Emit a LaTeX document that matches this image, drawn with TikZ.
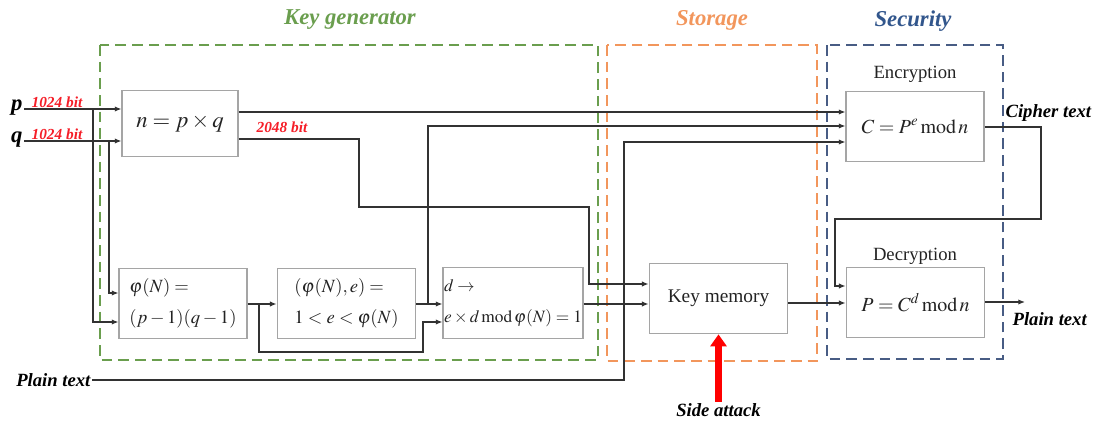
\documentclass[tikz,border=0pt]{standalone}
\usepackage{mathptmx}
\usepackage[no-math]{fontspec}
\setmainfont{Liberation Serif}
\usetikzlibrary{arrows.meta}
\definecolor{gcol}{RGB}{106,158,78}
\definecolor{ocol}{RGB}{242,150,92}
\definecolor{bcol}{RGB}{72,92,132}
\definecolor{btitle}{RGB}{50,86,140}
\definecolor{boxgray}{RGB}{165,165,165}
\definecolor{txtgray}{RGB}{35,35,35}
\definecolor{wiregray}{RGB}{50,50,50}
\definecolor{redlab}{RGB}{245,30,40}
\begin{document}
\begin{tikzpicture}[x=0.75pt,y=-0.75pt,
  box/.style={draw=boxgray, line width=0.8pt, inner sep=0pt, text=txtgray, minimum height=53pt},
  twoline/.style={align=left, font=\fontsize{14}{23}\selectfont},
  wire/.style={draw=wiregray, line width=0.9pt},
  arr/.style={wire, -{Latex[length=5pt,width=4pt]}},
  frame/.style={dashed, dash pattern=on 8pt off 4.5pt, line width=1.4pt},
  title/.style={font=\fontsize{17}{20}\selectfont\bfseries\itshape},
  lab/.style={font=\fontsize{14}{17}\selectfont\bfseries\itshape, text=black, inner sep=1pt},
  bits/.style={font=\fontsize{11.5}{13}\selectfont\bfseries\itshape, text=redlab, inner sep=0pt},
  hdr/.style={font=\fontsize{14}{17}\selectfont, text=txtgray},
  jdot/.style={circle, fill=wiregray, inner sep=0pt, minimum size=2.6pt},
  redarrow/.style={draw=red, line width=5pt, -{Triangle[length=9pt,width=12pt]}}
]
\useasboundingbox (0,0) rectangle (1097,421);

% dashed frames
\draw[frame, draw=gcol] (100,45) rectangle (598,360);
\draw[frame, draw=ocol] (607,45) rectangle (817,361);
\draw[frame, draw=bcol] (827,45) rectangle (1003,359);

% titles
\node[title, text=gcol] (tkg) at (350,20) {Key generator};
\node[title, text=ocol] (tst) at (712,20) {Storage};
\node[title, text=btitle] (tse) at (913,21) {Security};

% boxes
\node[box, minimum width=87pt, minimum height=49pt, font=\fontsize{17}{20}\selectfont] (nbox) at (180,123.5) {$n = p\times q$};
\node[box, twoline, minimum width=96pt] (phibox) at (183,303.5) {$\varphi(N) =$\\$(p-1)(q-1)$};
\node[box, twoline, minimum width=104pt] (ebox) at (346.5,303.5) {$(\varphi(N),e) =$\\$1<e<\varphi(N)$};
\node[box, twoline, minimum width=105pt, font=\fontsize{13}{23}\selectfont] (dbox) at (513,303) {$d\rightarrow$\\$e\times d\,\mathrm{mod}\,\varphi(N)=1$};
\node[box, minimum width=104pt, font=\fontsize{14.5}{17}\selectfont] (kmem) at (718.5,298.5) {Key memory};
\node[box, minimum width=103.5pt, font=\fontsize{15}{18}\selectfont] (enc) at (915,126.5) {$C = P^{e}\,\mathrm{mod}\,n$};
\node[box, minimum width=104pt, font=\fontsize{15}{18}\selectfont] (dec) at (915.5,302.5) {$P = C^{d}\,\mathrm{mod}\,n$};

\node[hdr] (enchdr) at (915,74) {Encryption};
\node[hdr] (dechdr) at (915,256) {Decryption};

% inputs
\node[font=\fontsize{17}{20}\selectfont\bfseries\itshape, anchor=east, inner sep=1pt] (p) at (24,108) {p};
\node[font=\fontsize{17}{20}\selectfont\bfseries\itshape, anchor=east, inner sep=1pt] (q) at (24,140) {q};
\node[bits] (pb) at (57,102) {1024 bit};
\node[bits] (qb) at (57,134) {1024 bit};
\node[bits] (nb) at (282,127) {2048 bit};
\node[lab, anchor=east] (ptin) at (92,380) {Plain text};
\node[lab, anchor=west] (ctout) at (1004,113) {Cipher text};
\node[lab, anchor=west] (ptout) at (1011,319) {Plain text};
\node[lab] (side) at (718.5,410) {Side attack};

% waypoints
\coordinate (py) at (60,109);
\coordinate (qy) at (60,141);
\coordinate (pj) at (93,109);
\coordinate (pk) at (93,322);
\coordinate (qj) at (109,141);
\coordinate (qk) at (109,293);
\coordinate (n1) at (300,112);
\coordinate (n2) at (300,139);
\coordinate (nA) at (359,207);
\coordinate (nB) at (589,284);
\coordinate (f1) at (259,304);
\coordinate (f2) at (423,352);
\coordinate (f3) at (423,322);
\coordinate (e1) at (428,304);
\coordinate (e2) at (428,126);
\coordinate (d1) at (600,304);
\coordinate (t0) at (300,380);
\coordinate (t1) at (624,380);
\coordinate (t2) at (624,142);
\coordinate (c0) at (1000,127);
\coordinate (c1) at (1041,219);
\coordinate (c3) at (835,286);
\coordinate (k1) at (800,303);
\coordinate (out) at (1025,302);

% connectors
\draw[arr] (p.east |- py) -- (nbox.west |- py);
\draw[arr] (q.east |- qy) -- (nbox.west |- qy);
\draw[arr] (pj) |- (phibox.west |- pk);
\draw[arr] (qj) |- (phibox.west |- qk);
\draw[arr] (nbox.east |- n1) -- (enc.west |- n1);
\draw[arr] (nbox.east |- n2) -| (nA) -| (nB) -- (kmem.west |- nB);
\draw[arr] (phibox.east |- f1) -- (ebox.west |- f1);
\draw[arr] (f1) |- (f2) -- (f3) -- (dbox.west |- f3);
\draw[arr] (ebox.east |- e1) -- (dbox.west |- e1);
\draw[arr] (e1) -- (e2) -- (enc.west |- e2);
\draw[arr] (dbox.east |- d1) -- (kmem.west |- d1);
\draw[arr] (ptin.east |- t0) -- (t1) -- (t2) -- (enc.west |- t2);
\draw[arr] (enc.east |- c0) -| (c1) -| (c3) -- (dec.west |- c3);
\draw[arr] (kmem.east |- k1) -- (dec.west |- k1);
\draw[arr] (dec.east |- out) -- (out);
\draw[redarrow] (kmem.south |- side.north) -- (kmem.south);

% junction dots
\node[jdot] (j1) at (pj |- qj) {};
\node[jdot] (j2) at (e1 |- nA) {};
\node[jdot] (j3) at (t1 |- nB) {};
\node[jdot] (j4) at (t1 |- d1) {};
\end{tikzpicture}
\end{document}
